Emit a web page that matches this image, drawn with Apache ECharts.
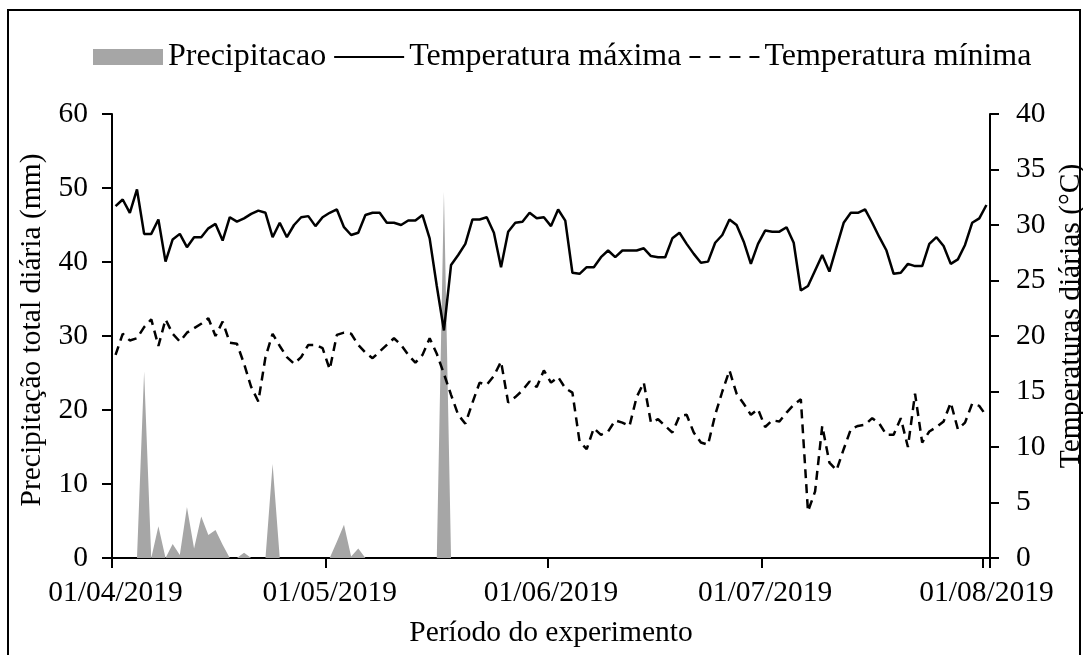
<!DOCTYPE html>
<html>
<head>
<meta charset="utf-8">
<script src="https://cdn.jsdelivr.net/npm/echarts@6/dist/echarts.min.js"></script>
<style>
html,body{margin:0;padding:0;background:#fff;overflow:hidden;}
#chart{width:1083px;height:655px;}
</style>
</head>
<body>
<div id="chart"></div>
<script>
// ---- Data (daily, 01/04/2019 .. 01/08/2019, 123 days) ----
const startDate = [2019, 3, 1];
const dayCount = 123;
const tickLabelIndices = [0, 30, 61, 91, 122]; // 01/04, 01/05, 01/06, 01/07, 01/08

const precipitacao = [
  0, 0, 0, 0, 25.2, 0, 4.3, 0, 1.9, 0.4,
  6.9, 1.3, 5.6, 3.1, 3.8, 1.8, 0, 0, 0.7, 0,
  0, 0, 12.7, 0, 0, 0, 0, 0, 0, 0,
  0, 2.2, 4.5, 0.2, 1.3, 0, 0, 0, 0, 0,
  0, 0, 0, 0, 0, 0, 49.5, 0, 0, 0,
  0, 0, 0, 0, 0, 0, 0, 0, 0, 0,
  0, 0, 0, 0, 0, 0, 0, 0, 0, 0,
  0, 0, 0, 0, 0, 0, 0, 0, 0, 0,
  0, 0, 0, 0, 0, 0, 0, 0, 0, 0,
  0, 0, 0, 0, 0, 0, 0, 0, 0, 0,
  0, 0, 0, 0, 0, 0, 0, 0, 0, 0,
  0, 0, 0, 0, 0, 0, 0, 0, 0, 0,
  0, 0, 0
];

const tempMax = [
  31.7, 32.3, 31.1, 33.2, 29.2, 29.2, 30.5, 26.7, 28.7, 29.2,
  28.0, 28.9, 28.9, 29.7, 30.1, 28.6, 30.7, 30.3, 30.6, 31.0,
  31.3, 31.1, 28.9, 30.2, 28.9, 30.0, 30.7, 30.8, 29.9, 30.7,
  31.1, 31.4, 29.8, 29.1, 29.3, 30.9, 31.1, 31.1, 30.2, 30.2,
  30.0, 30.4, 30.4, 30.9, 28.8, 24.5, 20.5, 26.4, 27.3, 28.3,
  30.5, 30.5, 30.7, 29.3, 26.2, 29.4, 30.2, 30.3, 31.1, 30.6,
  30.7, 29.9, 31.4, 30.4, 25.7, 25.6, 26.2, 26.2, 27.1, 27.7,
  27.1, 27.7, 27.7, 27.7, 27.9, 27.2, 27.1, 27.1, 28.8, 29.3,
  28.3, 27.4, 26.6, 26.7, 28.4, 29.1, 30.5, 30.0, 28.5, 26.5,
  28.3, 29.5, 29.4, 29.4, 29.8, 28.4, 24.1, 24.5, 25.9, 27.3,
  25.8, 28.0, 30.2, 31.1, 31.1, 31.4, 30.2, 28.9, 27.7, 25.6,
  25.7, 26.5, 26.3, 26.3, 28.3, 28.9, 28.1, 26.5, 26.9, 28.2,
  30.2, 30.6, 31.8
];

const tempMin = [
  18.3, 20.2, 19.6, 19.8, 20.8, 21.5, 19.1, 21.5, 20.2, 19.5,
  20.3, 20.7, 21.1, 21.6, 20.0, 21.3, 19.4, 19.3, 17.5, 15.4,
  14.1, 18.1, 20.2, 19.1, 18.1, 17.5, 18.1, 19.2, 19.2, 18.9,
  17.0, 20.1, 20.3, 20.2, 19.2, 18.5, 18.0, 18.6, 19.2, 19.8,
  19.2, 18.3, 17.6, 18.3, 19.8, 18.4, 16.6, 14.7, 12.9, 12.1,
  14.0, 15.8, 15.6, 16.4, 17.7, 14.0, 14.5, 15.1, 15.9, 15.4,
  16.9, 15.8, 16.3, 15.3, 14.9, 10.5, 9.8, 11.7, 11.1, 11.4,
  12.4, 12.2, 11.9, 14.5, 15.8, 12.2, 12.5, 11.9, 11.3, 12.8,
  12.9, 11.3, 10.4, 10.2, 12.9, 15.0, 16.9, 14.8, 13.9, 12.9,
  13.4, 11.8, 12.4, 12.3, 13.1, 13.8, 14.3, 4.2, 6.0, 11.9,
  8.6, 7.9, 9.8, 11.6, 11.9, 12.0, 12.6, 12.1, 11.1, 11.1,
  12.6, 10.0, 14.8, 10.4, 11.4, 11.8, 12.3, 14.0, 11.6, 12.2,
  13.9, 13.7, 12.8
];

// category labels dd/mm/yyyy
function pad(n){ return (n < 10 ? '0' : '') + n; }
const categories = [];
for (let i = 0; i < dayCount; i++) {
  const d = new Date(startDate[0], startDate[1], startDate[2] + i);
  categories.push(pad(d.getDate()) + '/' + pad(d.getMonth() + 1) + '/' + d.getFullYear());
}

const FONT = '"Liberation Serif", "Times New Roman", serif';
const FS = 29.5;

const chart = echarts.init(document.getElementById('chart'), null, {renderer: 'canvas'});
const showAt = function (index) { return tickLabelIndices.indexOf(index) >= 0; };
const hiddenSymbol = {opacity: 0, color: 'rgba(0,0,0,0)', borderWidth: 0};

chart.setOption({
  animation: false,
  backgroundColor: '#ffffff',
  textStyle: {fontFamily: FONT, color: '#000'},
  graphic: [{
    type: 'rect',
    shape: {x: 8, y: 10, width: 1072, height: 660},
    style: {fill: 'none', stroke: '#000', lineWidth: 2},
    silent: true, z: -10
  }],
  legend: {
    top: 36,
    left: 88,
    itemGap: 7,
    itemWidth: 70,
    itemHeight: 16,
    textStyle: {fontFamily: FONT, fontSize: 32, color: '#000'},
    data: [
      {name: 'Precipitacao', icon: 'rect', itemStyle: {color: '#A6A6A6'}},
      {name: 'Temperatura máxima', itemStyle: hiddenSymbol},
      {name: 'Temperatura mínima', itemStyle: hiddenSymbol, lineStyle: {type: [11, 9]}}
    ]
  },
  grid: {left: 112, right: 93, top: 114, bottom: 97, containLabel: false, outerBoundsMode: 'none'},
  xAxis: {
    type: 'category',
    data: categories,
    boundaryGap: true,
    name: 'Período do experimento',
    nameLocation: 'middle',
    nameGap: 60,
    nameTextStyle: {fontFamily: FONT, fontSize: FS, color: '#000'},
    axisLine: {lineStyle: {color: '#000', width: 2}},
    axisTick: {show: true, interval: showAt, length: 10, lineStyle: {color: '#000', width: 2}},
    axisLabel: {interval: showAt, margin: 20, fontFamily: FONT, fontSize: FS, color: '#000', hideOverlap: false},
    splitLine: {show: false}
  },
  yAxis: [{
    type: 'value',
    min: 0, max: 60, interval: 10,
    position: 'left',
    name: 'Precipitação total diária (mm)',
    nameLocation: 'middle',
    nameRotate: 90,
    nameGap: 62,
    nameTextStyle: {fontFamily: FONT, fontSize: FS, color: '#000', padding: [0, 0, 0, 12]},
    axisLine: {show: true, lineStyle: {color: '#000', width: 2}},
    axisTick: {show: true, length: 10, lineStyle: {color: '#000', width: 2}},
    axisLabel: {margin: 24, fontFamily: FONT, fontSize: FS, color: '#000'},
    splitLine: {show: false}
  }, {
    type: 'value',
    min: 0, max: 40, interval: 5,
    position: 'right',
    name: 'Temperaturas diárias (°C)',
    nameLocation: 'middle',
    nameRotate: 90,
    nameGap: 62,
    nameTextStyle: {fontFamily: FONT, fontSize: FS, color: '#000', padding: [0, 0, 0, 40]},
    axisLine: {show: true, lineStyle: {color: '#000', width: 2}},
    axisTick: {show: true, length: 9, lineStyle: {color: '#000', width: 2}},
    axisLabel: {margin: 26, fontFamily: FONT, fontSize: FS, color: '#000'},
    splitLine: {show: false}
  }],
  series: [{
    name: 'Precipitacao',
    type: 'line',
    yAxisIndex: 0,
    data: precipitacao,
    symbol: 'none',
    lineStyle: {width: 0, color: '#A6A6A6'},
    itemStyle: {color: '#A6A6A6'},
    areaStyle: {color: '#A6A6A6', opacity: 1},
    z: 1
  }, {
    name: 'Temperatura máxima',
    type: 'line',
    yAxisIndex: 1,
    data: tempMax,
    symbol: 'none',
    lineStyle: {color: '#000', width: 2.5},
    itemStyle: {color: '#000'},
    z: 3
  }, {
    name: 'Temperatura mínima',
    type: 'line',
    yAxisIndex: 1,
    data: tempMin,
    symbol: 'none',
    lineStyle: {color: '#000', width: 2.5, type: [9, 6]},
    itemStyle: {color: '#000'},
    z: 3
  }]
});
</script>
</body>
</html>
